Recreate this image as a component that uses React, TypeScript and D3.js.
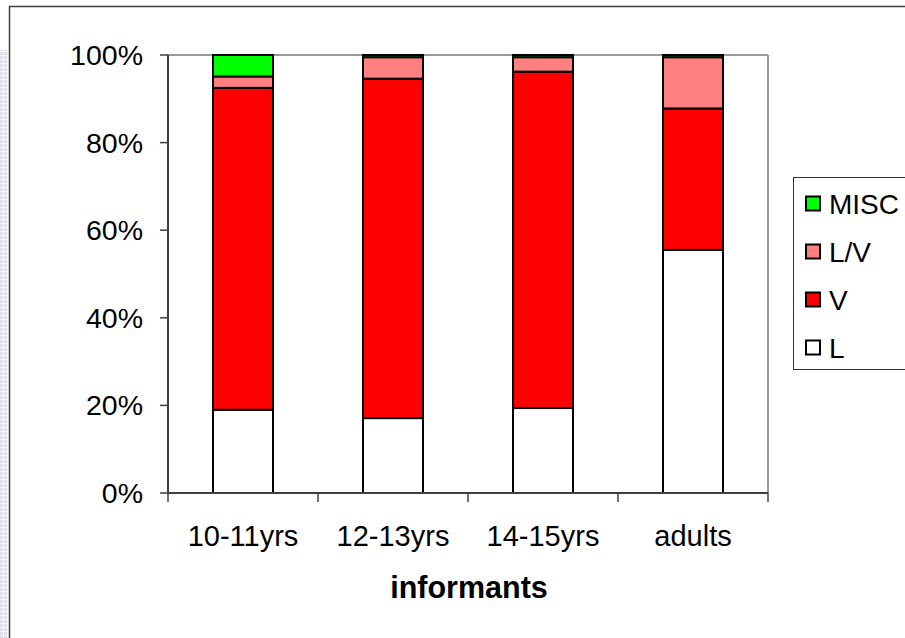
import React from "react";
import * as d3 from "d3";

// Share of responses per informant group (percent, stacked to 100)
const categories = ["10-11yrs", "12-13yrs", "14-15yrs", "adults"];
const seriesL = [19.0, 17.1, 19.4, 55.5];
const seriesV = [73.5, 77.5, 76.8, 32.3];
const seriesLV = [2.6, 4.9, 3.3, 11.7];
const seriesMISC = [4.9, 0.5, 0.5, 0.5];
const yTicks = [0, 20, 40, 60, 80, 100];
const seriesNames = ["L", "V", "L/V", "MISC"];
const seriesColors = ["#FFFFFF", "#FF0000", "#FF8080", "#00FF00"];

const W = 905;
const H = 638;
const plot = { left: 168, right: 768, top: 55, bottom: 493 };
const FONT = "'Liberation Sans', Arial, sans-serif";

export default function App() {
  const rows = categories.map((c, i) => ({
    cat: c,
    L: seriesL[i],
    V: seriesV[i],
    "L/V": seriesLV[i],
    MISC: seriesMISC[i],
  }));
  const stacked = d3.stack<any>().keys(seriesNames)(rows);

  const x = d3
    .scaleBand<string>()
    .domain(categories)
    .range([plot.left, plot.right])
    .paddingInner(0.6)
    .paddingOuter(0.3);
  const band = d3.scaleBand<string>().domain(categories).range([plot.left, plot.right]);
  const y = d3.scaleLinear().domain([0, 100]).range([plot.bottom, plot.top]);

  const legendItems = [...seriesNames].reverse();

  return (
    <svg
      width={W}
      height={H}
      style={{ position: "absolute", left: 0, top: 0, background: "#fff" }}
      fontFamily={FONT}
    >
      <defs>
        <pattern id="dots" width="4" height="4" patternUnits="userSpaceOnUse">
          <rect width="4" height="4" fill="#f6f6fa" />
          <rect width="3" height="3" fill="#dfdfea" />
        </pattern>
      </defs>
      <rect x={0} y={0} width={W} height={H} fill="#fff" />
      <rect x={0} y={50} width={8} height={H - 50} fill="url(#dots)" />

      {/* chart frame */}
      <line x1={9} x2={W} y1={6.5} y2={6.5} stroke="#404040" strokeWidth={1.5} />
      <line x1={9.5} x2={9.5} y1={6} y2={H} stroke="#404040" strokeWidth={1.5} />

      {/* plot area border & top gridline */}
      <line x1={plot.left} x2={plot.right} y1={plot.top} y2={plot.top} stroke="#999" strokeWidth={2} />
      <line x1={plot.right} x2={plot.right} y1={plot.top} y2={plot.bottom} stroke="#999" strokeWidth={2} />

      {/* bars */}
      {stacked.map((s, si) =>
        s.map((d, i) => (
          <rect
            key={`${si}-${i}`}
            x={x(categories[i])}
            y={y(d[1])}
            width={x.bandwidth()}
            height={y(d[0]) - y(d[1])}
            fill={seriesColors[si]}
            stroke="#000"
            strokeWidth={2}
          />
        ))
      )}

      {/* y axis */}
      <line x1={plot.left} x2={plot.left} y1={plot.top} y2={plot.bottom} stroke="#404040" strokeWidth={2} />
      {yTicks.map((t) => (
        <g key={t}>
          <line x1={plot.left - 8} x2={plot.left} y1={y(t)} y2={y(t)} stroke="#404040" strokeWidth={1.5} />
          <text x={143} y={y(t) + 10} textAnchor="end" fontSize={28.5} fill="#000">
            {t}%
          </text>
        </g>
      ))}

      {/* x axis */}
      <line x1={plot.left} x2={plot.right} y1={plot.bottom} y2={plot.bottom} stroke="#404040" strokeWidth={2} />
      {[...categories.map((c) => band(c) as number), plot.right].map((px, i) => (
        <line key={i} x1={px} x2={px} y1={plot.bottom} y2={plot.bottom + 9} stroke="#404040" strokeWidth={1.5} />
      ))}
      {categories.map((c) => (
        <text
          key={c}
          x={(band(c) as number) + band.bandwidth() / 2}
          y={546}
          textAnchor="middle"
          fontSize={29}
          fill="#000"
        >
          {c}
        </text>
      ))}
      <text x={(plot.left + plot.right) / 2 + 1} y={598} textAnchor="middle" fontSize={30.5} fontWeight="bold" fill="#000">
        informants
      </text>

      {/* legend */}
      <rect x={793.5} y={177.5} width={130} height={192} fill="#fff" stroke="#333" strokeWidth={1} />
      {legendItems.map((name, i) => {
        const cy = 203.5 + i * 48;
        const ci = seriesNames.indexOf(name);
        return (
          <g key={name}>
            <rect x={806} y={cy - 7} width={14} height={14} fill={seriesColors[ci]} stroke="#000" strokeWidth={2} />
            <text x={829} y={cy + 10} fontSize={28} fill="#000">
              {name}
            </text>
          </g>
        );
      })}
    </svg>
  );
}
